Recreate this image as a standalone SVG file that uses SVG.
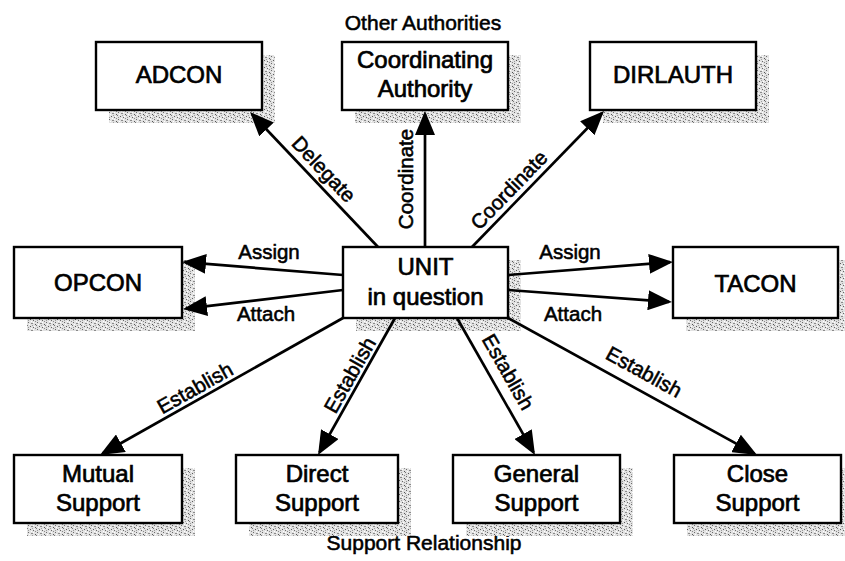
<svg xmlns="http://www.w3.org/2000/svg" width="845" height="561" viewBox="0 0 845 561">
  <defs>
    <style>
      .box { fill: #ffffff; stroke: #000000; stroke-width: 2.4; }
      .shadow { fill: url(#grain); stroke: none; }
      .node { font-family: "Liberation Sans", Arial, sans-serif; font-size: 24px; fill: #000; text-anchor: middle; stroke: #000; stroke-width: 0.7; }
      .lbl { font-family: "Liberation Sans", Arial, sans-serif; font-size: 20.5px; fill: #000; text-anchor: middle; stroke: #000; stroke-width: 0.55; }
      .cap { font-size: 21px; }
      .edge { fill: none; stroke: #000000; stroke-width: 2.7; marker-end: url(#head); }
    </style>
    <!-- speckled halftone used for the drop shadows -->
    <pattern id="grain" width="9" height="7" patternUnits="userSpaceOnUse">
      <rect width="9" height="7" fill="#e2e2e2"/>
      <rect x="1" y="0" width="1" height="1" fill="#6a6a6a"/>
      <rect x="6" y="0" width="1" height="1" fill="#ffffff"/>
      <rect x="4" y="1" width="2" height="1" fill="#8a8a8a"/>
      <rect x="8" y="2" width="1" height="1" fill="#555555"/>
      <rect x="2" y="2" width="1" height="1" fill="#ffffff"/>
      <rect x="0" y="3" width="1" height="1" fill="#7a7a7a"/>
      <rect x="5" y="3" width="1" height="1" fill="#a0a0a0"/>
      <rect x="3" y="4" width="1" height="1" fill="#5a5a5a"/>
      <rect x="7" y="4" width="1" height="1" fill="#ffffff"/>
      <rect x="1" y="5" width="1" height="1" fill="#9a9a9a"/>
      <rect x="6" y="5" width="1" height="1" fill="#666666"/>
      <rect x="4" y="6" width="1" height="1" fill="#ffffff"/>
      <rect x="8" y="6" width="1" height="1" fill="#8c8c8c"/>
    </pattern>
    <marker id="head" viewBox="0 0 24 20" refX="21" refY="10" markerWidth="24" markerHeight="20" markerUnits="userSpaceOnUse" orient="auto">
      <path d="M0,0 L24,10 L0,20 Z" fill="#000"/>
    </marker>
  </defs>

  <rect width="845" height="561" fill="#ffffff"/>

  <!-- group captions -->
  <text class="lbl cap" x="423" y="30">Other Authorities</text>
  <text class="lbl cap" x="424" y="550">Support Relationship</text>

  <!-- top row -->
  <g id="adcon">
    <rect class="shadow" x="109" y="55" width="166" height="68"/>
    <rect class="box" x="96" y="42" width="166" height="68"/>
    <text class="node" x="179" y="83">ADCON</text>
  </g>
  <g id="coordinating-authority">
    <rect class="shadow" x="355" y="55" width="166" height="68"/>
    <rect class="box" x="342" y="42" width="166" height="68"/>
    <text class="node" x="425" y="68">Coordinating</text>
    <text class="node" x="425" y="97">Authority</text>
  </g>
  <g id="dirlauth">
    <rect class="shadow" x="603" y="55" width="166" height="68"/>
    <rect class="box" x="590" y="42" width="166" height="68"/>
    <text class="node" x="673" y="83">DIRLAUTH</text>
  </g>

  <!-- middle row -->
  <g id="opcon">
    <rect class="shadow" x="27" y="260" width="168" height="71"/>
    <rect class="box" x="14" y="247" width="168" height="71"/>
    <text class="node" x="98" y="291">OPCON</text>
  </g>
  <g id="unit">
    <rect class="shadow" x="356" y="260" width="165" height="71"/>
    <rect class="box" x="343" y="247" width="165" height="71"/>
    <text class="node" x="425.5" y="275">UNIT</text>
    <text class="node" x="425.5" y="305">in question</text>
  </g>
  <g id="tacon">
    <rect class="shadow" x="686" y="260" width="165" height="71"/>
    <rect class="box" x="673" y="247" width="165" height="71"/>
    <text class="node" x="755.5" y="292">TACON</text>
  </g>

  <!-- bottom row -->
  <g id="mutual-support">
    <rect class="shadow" x="27" y="468" width="168" height="68"/>
    <rect class="box" x="14" y="455" width="168" height="68"/>
    <text class="node" x="98" y="482">Mutual</text>
    <text class="node" x="98" y="511">Support</text>
  </g>
  <g id="direct-support">
    <rect class="shadow" x="249" y="468" width="162" height="68"/>
    <rect class="box" x="236" y="455" width="162" height="68"/>
    <text class="node" x="317" y="482">Direct</text>
    <text class="node" x="317" y="511">Support</text>
  </g>
  <g id="general-support">
    <rect class="shadow" x="466" y="468" width="167" height="68"/>
    <rect class="box" x="453" y="455" width="167" height="68"/>
    <text class="node" x="536.5" y="482">General</text>
    <text class="node" x="536.5" y="511">Support</text>
  </g>
  <g id="close-support">
    <rect class="shadow" x="687" y="468" width="167" height="68"/>
    <rect class="box" x="674" y="455" width="167" height="68"/>
    <text class="node" x="757.5" y="482">Close</text>
    <text class="node" x="757.5" y="511">Support</text>
  </g>

  <!-- connectors -->
  <g id="connectors">
    <path class="edge" d="M378,247 L252.1,114.2"/>
    <path class="edge" d="M425,247 L425,114"/>
    <path class="edge" d="M472,247 L601.9,113.2"/>
    <path class="edge" d="M343,275 L185,262.2"/>
    <path class="edge" d="M343,290 L186,308.6"/>
    <path class="edge" d="M508,275 L670,262.2"/>
    <path class="edge" d="M508,290 L669,301.8"/>
    <path class="edge" d="M343,318 L102.6,453.5"/>
    <path class="edge" d="M395,318 L319.5,452.4"/>
    <path class="edge" d="M457,318 L533.5,452.4"/>
    <path class="edge" d="M508,318 L754.4,453.6"/>

    <text class="lbl" transform="translate(323,170) rotate(46.5)" y="6">Delegate</text>
    <text class="lbl" transform="translate(413,179) rotate(-90)">Coordinate</text>
    <text class="lbl" transform="translate(509,190) rotate(-46)" y="7">Coordinate</text>
    <text class="lbl" x="269" y="259">Assign</text>
    <text class="lbl" x="266" y="321">Attach</text>
    <text class="lbl" x="570" y="259">Assign</text>
    <text class="lbl" x="573" y="321">Attach</text>
    <text class="lbl" transform="translate(195,388) rotate(-29.4)" y="7">Establish</text>
    <text class="lbl" transform="translate(350,375) rotate(-60.5)" y="7">Establish</text>
    <text class="lbl" transform="translate(508,372) rotate(60.3)" y="7">Establish</text>
    <text class="lbl" transform="translate(644,372) rotate(28.8)" y="7">Establish</text>
  </g>
</svg>
